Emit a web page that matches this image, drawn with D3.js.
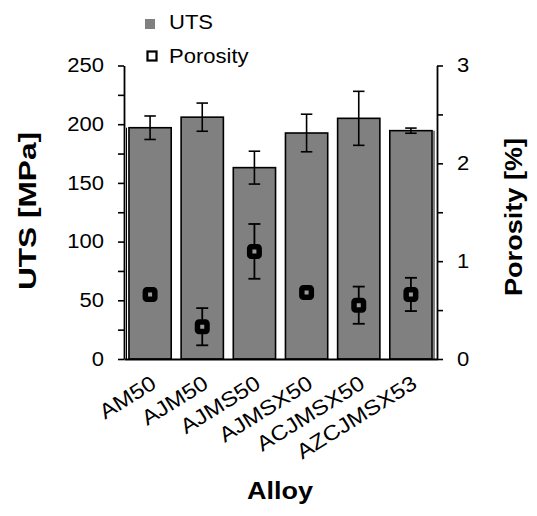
<!DOCTYPE html>
<html>
<head>
<meta charset="utf-8">
<script src="https://cdn.jsdelivr.net/npm/d3@7"></script>
<style>
  body { margin: 0; background: #fff; }
  svg text { font-family: "Liberation Sans", Arial, sans-serif; fill: #000; }
</style>
</head>
<body>
<div id="chart"></div>
<script>
// data
const alloys = ['AM50', 'AJM50', 'AJMS50', 'AJMSX50', 'ACJMSX50', 'AZCJMSX53'];
const utsMean = [197, 206, 163, 192.5, 205, 194.5];
const utsErr = [10, 12, 14, 16, 23, 2.2];
const porosityMean = [0.66, 0.33, 1.10, 0.68, 0.55, 0.66];
const porosityErr = [0, 0.19, 0.28, 0, 0.19, 0.17];
const utsTicks = [0, 50, 100, 150, 200, 250];
const porosityTicks = [0, 1, 2, 3];

const width = 537, height = 516;
const plotLeft = 124, plotRight = 437, plotTop = 65.5, plotBottom = 359;
const stretch = 1.13; // reference glyphs are a bit wider than Liberation Sans

const svg = d3.select('#chart').append('svg')
  .attr('width', width)
  .attr('height', height);

const x = d3.scaleBand()
  .domain(alloys)
  .range([plotLeft, plotRight])
  .paddingInner(0.19)
  .paddingOuter(0.095);

const yUts = d3.scaleLinear().domain([0, 250]).range([plotBottom, plotTop]);
const yPor = d3.scaleLinear().domain([0, 3]).range([plotBottom, plotTop]);

const rows = alloys.map((a, i) => ({
  alloy: a, uts: utsMean[i], utsErr: utsErr[i], por: porosityMean[i], porErr: porosityErr[i]
}));

// odd thin lines just inside the plot edges
svg.append('line')
  .attr('x1', plotLeft + 2.5).attr('x2', plotLeft + 2.5)
  .attr('y1', yUts(utsMean[0])).attr('y2', plotBottom)
  .attr('stroke', '#000').attr('stroke-width', 1);
svg.append('line')
  .attr('x1', plotRight - 3).attr('x2', plotRight - 3)
  .attr('y1', yUts(utsMean[utsMean.length - 1])).attr('y2', plotBottom)
  .attr('stroke', '#000').attr('stroke-width', 1);

// bars
svg.selectAll('.bar')
  .data(rows)
  .enter()
  .append('rect')
  .attr('class', 'bar')
  .attr('x', d => x(d.alloy))
  .attr('y', d => yUts(d.uts))
  .attr('width', x.bandwidth())
  .attr('height', d => plotBottom - yUts(d.uts))
  .attr('fill', '#808080')
  .attr('stroke', '#000')
  .attr('stroke-width', 1.6);

// error bars helper
function errorBars(cls, data, yScale, valKey, errKey, cap, sw) {
  const g = svg.append('g').attr('class', cls)
    .attr('stroke', '#000').attr('stroke-width', sw).attr('fill', 'none');
  const eb = g.selectAll('g').data(data.filter(d => d[errKey] > 0)).enter().append('g');
  const cx = d => x(d.alloy) + x.bandwidth() / 2;
  eb.append('line')
    .attr('x1', cx).attr('x2', cx)
    .attr('y1', d => yScale(d[valKey] + d[errKey]))
    .attr('y2', d => yScale(d[valKey] - d[errKey]));
  eb.append('line')
    .attr('x1', d => cx(d) - cap / 2).attr('x2', d => cx(d) + cap / 2)
    .attr('y1', d => yScale(d[valKey] + d[errKey]))
    .attr('y2', d => yScale(d[valKey] + d[errKey]));
  eb.append('line')
    .attr('x1', d => cx(d) - cap / 2).attr('x2', d => cx(d) + cap / 2)
    .attr('y1', d => yScale(d[valKey] - d[errKey]))
    .attr('y2', d => yScale(d[valKey] - d[errKey]));
}

errorBars('uts-err', rows, yUts, 'uts', 'utsErr', 11.5, 1.6);
errorBars('por-err', rows, yPor, 'por', 'porErr', 12, 1.8);

// porosity markers
const m = 9.5;
svg.selectAll('.marker')
  .data(rows)
  .enter()
  .append('rect')
  .attr('class', 'marker')
  .attr('x', d => x(d.alloy) + x.bandwidth() / 2 - m / 2)
  .attr('y', d => yPor(d.por) - m / 2)
  .attr('width', m)
  .attr('height', m)
  .attr('rx', 1.5)
  .attr('fill', '#9a9a9a')
  .attr('stroke', '#000')
  .attr('stroke-width', 5.5);

function stretchText(sel) {
  sel.attr('transform', function() {
    const xx = +d3.select(this).attr('x');
    return `translate(${xx},0) scale(${stretch},1) translate(${-xx},0)`;
  });
}

// left axis
const leftAxis = svg.append('g')
  .attr('transform', `translate(${plotLeft},0)`)
  .call(d3.axisLeft(yUts)
    .tickValues(d3.range(0, 251, 25))
    .tickSize(6)
    .tickSizeOuter(0)
    .tickPadding(14)
    .tickFormat(d => utsTicks.includes(d) ? d : ''));
leftAxis.select('.domain').attr('stroke-width', 1.8);
leftAxis.selectAll('line').attr('stroke-width', 1.6);
leftAxis.selectAll('text')
  .attr('font-size', 19.5)
  .attr('font-family', '"Liberation Sans", Arial, sans-serif')
  .call(stretchText);

// right axis
const rightAxis = svg.append('g')
  .attr('transform', `translate(${plotRight},0)`)
  .call(d3.axisRight(yPor)
    .tickValues(d3.range(0, 3.01, 0.5))
    .tickSize(6)
    .tickSizeOuter(0)
    .tickPadding(14)
    .tickFormat(d => porosityTicks.includes(d) ? d : ''));
rightAxis.select('.domain').attr('stroke-width', 1.8);
rightAxis.selectAll('line').attr('stroke-width', 1.6);
rightAxis.selectAll('text')
  .attr('font-size', 19.5)
  .attr('font-family', '"Liberation Sans", Arial, sans-serif')
  .call(stretchText);

// bottom axis with rotated category labels
const bottomAxis = svg.append('g')
  .attr('transform', `translate(0,${plotBottom})`)
  .call(d3.axisBottom(x).tickSize(0).tickSizeOuter(0));
bottomAxis.select('.domain').attr('stroke-width', 2);
bottomAxis.selectAll('text')
  .attr('font-size', 21)
  .attr('font-family', '"Liberation Sans", Arial, sans-serif')
  .attr('text-anchor', 'end')
  .attr('dy', 0)
  .attr('y', 0)
  .attr('transform', `translate(7.5,28) rotate(-32) scale(${stretch},1)`);

// axis titles
svg.append('text')
  .attr('transform', 'translate(36,211) rotate(-90)')
  .attr('text-anchor', 'middle')
  .attr('font-size', 24)
  .attr('font-weight', 'bold')
  .attr('textLength', 158)
  .attr('lengthAdjust', 'spacingAndGlyphs')
  .text('UTS [MPa]');

svg.append('text')
  .attr('transform', 'translate(522,217) rotate(-90)')
  .attr('text-anchor', 'middle')
  .attr('font-size', 24)
  .attr('font-weight', 'bold')
  .attr('textLength', 158)
  .attr('lengthAdjust', 'spacingAndGlyphs')
  .text('Porosity [%]');

svg.append('text')
  .attr('x', 280)
  .attr('y', 499)
  .attr('text-anchor', 'middle')
  .attr('font-size', 24)
  .attr('font-weight', 'bold')
  .attr('textLength', 66)
  .attr('lengthAdjust', 'spacingAndGlyphs')
  .text('Alloy');

// legend
const legend = svg.append('g');
legend.append('rect')
  .attr('x', 145).attr('y', 19).attr('width', 10).attr('height', 10)
  .attr('fill', '#808080');
legend.append('text')
  .attr('x', 169).attr('y', 29)
  .attr('font-size', 19.5)
  .call(stretchText)
  .text('UTS');
legend.append('rect')
  .attr('x', 147.5).attr('y', 51.5).attr('width', 9).attr('height', 9)
  .attr('fill', '#fff').attr('stroke', '#000').attr('stroke-width', 2.2);
legend.append('text')
  .attr('x', 169).attr('y', 63)
  .attr('font-size', 19.5)
  .call(stretchText)
  .text('Porosity');
</script>
</body>
</html>
